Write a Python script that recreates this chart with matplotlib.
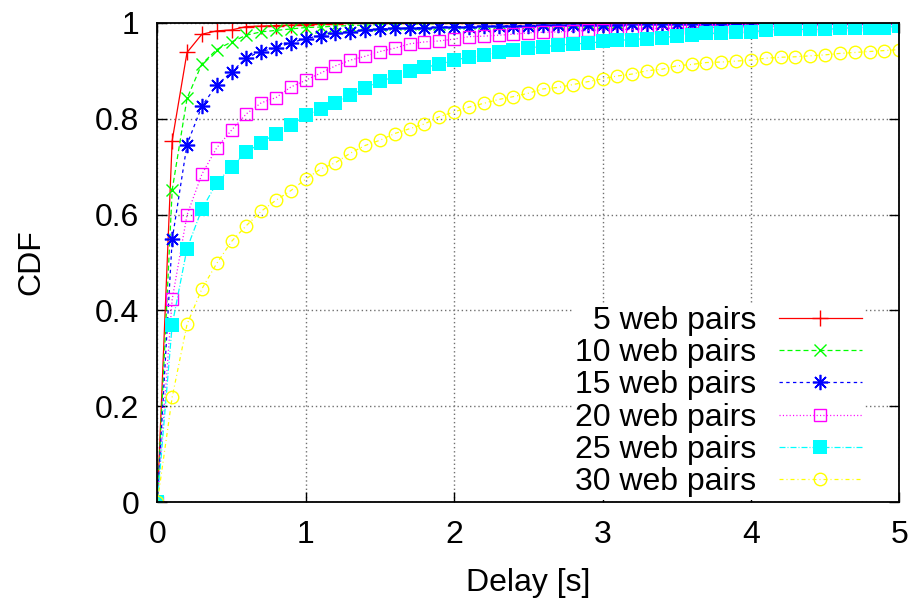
import matplotlib
matplotlib.use('Agg')
import matplotlib.pyplot as plt

plt.rcParams['font.family'] = ['Liberation Sans', 'DejaVu Sans']

# retardo en segundos (una muestra cada 0.1 s)
delay = [0.0, 0.1, 0.2, 0.3, 0.4, 0.5, 0.6, 0.7, 0.8, 0.9,
         1.0, 1.1, 1.2, 1.3, 1.4, 1.5, 1.6, 1.7, 1.8, 1.9,
         2.0, 2.1, 2.2, 2.3, 2.4, 2.5, 2.6, 2.7, 2.8, 2.9,
         3.0, 3.1, 3.2, 3.3, 3.4, 3.5, 3.6, 3.7, 3.8, 3.9,
         4.0, 4.1, 4.2, 4.3, 4.4, 4.5, 4.6, 4.7, 4.8, 4.9, 5.0]

cdf_5 = [0, 0.754, 0.938, 0.976, 0.983, 0.985, 0.992, 0.993, 0.994, 0.995,
         0.996, 0.997, 0.998, 0.999, 1, 1, 1, 1, 1, 1,
         1, 1, 1, 1, 1, 1, 1, 1, 1, 1,
         1, 1, 1, 1, 1, 1, 1, 1, 1, 1,
         1, 1, 1, 1, 1, 1, 1, 1, 1, 1, 1]

cdf_10 = [0, 0.651, 0.842, 0.914, 0.944, 0.960, 0.974, 0.981, 0.984, 0.987,
          0.990, 0.991, 0.993, 0.994, 0.995, 0.996, 0.997, 0.997, 0.998, 0.998,
          0.999, 0.999, 1, 1, 1, 1, 1, 1, 1, 1,
          1, 1, 1, 1, 1, 1, 1, 1, 1, 1,
          1, 1, 1, 1, 1, 1, 1, 1, 1, 1, 1]

cdf_15 = [0, 0.548, 0.746, 0.826, 0.870, 0.897, 0.927, 0.940, 0.948, 0.958,
          0.967, 0.973, 0.978, 0.981, 0.985, 0.987, 0.988, 0.989, 0.990, 0.991,
          0.992, 0.992, 0.993, 0.993, 0.994, 0.994, 0.995, 0.995, 0.995, 0.996,
          0.996, 0.996, 0.997, 0.997, 0.997, 0.997, 0.998, 0.998, 0.998, 0.998,
          0.999, 0.999, 0.999, 0.999, 0.999, 1, 1, 1, 1, 1, 1]

cdf_20 = [0, 0.423, 0.599, 0.684, 0.739, 0.776, 0.810, 0.833, 0.844, 0.866,
          0.880, 0.895, 0.910, 0.922, 0.930, 0.940, 0.947, 0.956, 0.960, 0.962,
          0.966, 0.971, 0.972, 0.974, 0.976, 0.979, 0.980, 0.981, 0.982, 0.984,
          0.985, 0.986, 0.986, 0.988, 0.988, 0.989, 0.990, 0.990, 0.991, 0.991,
          0.992, 0.992, 0.993, 0.993, 0.994, 0.994, 0.995, 0.995, 0.996, 0.996, 0.997]

cdf_25 = [0, 0.370, 0.529, 0.611, 0.666, 0.700, 0.730, 0.750, 0.769, 0.786,
          0.807, 0.820, 0.832, 0.849, 0.863, 0.878, 0.887, 0.899, 0.907, 0.913,
          0.922, 0.928, 0.932, 0.938, 0.944, 0.948, 0.950, 0.953, 0.956, 0.957,
          0.961, 0.963, 0.965, 0.967, 0.969, 0.972, 0.974, 0.978, 0.978, 0.980,
          0.980, 0.985, 0.986, 0.986, 0.986, 0.986, 0.988, 0.990, 0.990, 0.990, 0.993]

cdf_30 = [0, 0.219, 0.371, 0.445, 0.498, 0.544, 0.577, 0.607, 0.630, 0.650,
          0.674, 0.695, 0.708, 0.728, 0.744, 0.755, 0.769, 0.779, 0.789, 0.804,
          0.814, 0.824, 0.832, 0.840, 0.846, 0.853, 0.862, 0.865, 0.871, 0.877,
          0.883, 0.889, 0.893, 0.900, 0.903, 0.910, 0.913, 0.917, 0.918, 0.920,
          0.922, 0.926, 0.928, 0.929, 0.931, 0.933, 0.936, 0.938, 0.940, 0.942, 0.944]

etiquetas = ['5 web pairs', '10 web pairs', '15 web pairs',
             '20 web pairs', '25 web pairs', '30 web pairs']

fig = plt.figure(figsize=(9.19, 6.06), dpi=100)
ax = fig.add_axes([0.1712, 0.1711, 0.8074, 0.7914])

# estilo tipo gnuplot: color, trazo y marcador de cada serie
ax.plot(delay, cdf_5, color='#ff0000', lw=0.9, ls='-',
        marker='+', ms=11, mew=1, label=etiquetas[0])
ax.plot(delay, cdf_10, color='#00ff00', lw=0.9, ls=(0, (4, 2.4)),
        marker='x', ms=9, mew=1, label=etiquetas[1])
ax.plot(delay, cdf_15, color='#0000ff', lw=0.9, ls=(0, (2.7, 2.7)),
        marker=(8, 2, 0), ms=11, mew=1.2, label=etiquetas[2])
ax.plot(delay, cdf_20, color='#ff00ff', lw=0.9, ls=(0, (0.9, 1.8)),
        marker='s', ms=9, mew=1, mfc='none', label=etiquetas[3])
ax.plot(delay, cdf_25, color='#00ffff', lw=0.9, ls=(0, (4.8, 1.6, 0.8, 1.6)),
        marker='s', ms=9.5, mew=0, label=etiquetas[4])
ax.plot(delay, cdf_30, color='#ffff00', lw=0.9, ls=(0, (3.2, 2.4, 0.8, 2.4)),
        marker='o', ms=9, mew=1, mfc='none', label=etiquetas[5])

ax.set_xlim(0, 5)
ax.set_ylim(0, 1)
ax.set_xticks([0, 1, 2, 3, 4, 5])
ax.set_xticklabels(['0', '1', '2', '3', '4', '5'])
ax.set_yticks([0, 0.2, 0.4, 0.6, 0.8, 1])
ax.set_yticklabels(['0', '0.2', '0.4', '0.6', '0.8', '1'])
ax.tick_params(direction='in', length=7, width=1, labelsize=23,
               top=True, right=True, color='black')
ax.tick_params(axis='y', pad=13)
ax.tick_params(axis='x', pad=13)
for s in ax.spines.values():
    s.set_linewidth(1.3)

ax.grid(True, color='#707070', ls=(0, (1, 2)), lw=1)

ax.set_xlabel('Delay [s]', fontsize=23, labelpad=13)
ax.set_ylabel('CDF', fontsize=23, labelpad=35)

leg = ax.legend(loc='lower right', bbox_to_anchor=(0.954, 0.004),
                markerfirst=False, fontsize=23, handlelength=2.6,
                handletextpad=0.7, labelspacing=0.07, borderpad=0.1,
                borderaxespad=0, frameon=True, fancybox=False,
                framealpha=1, facecolor='white', edgecolor='none')

fig.savefig('out.png', dpi=100)
